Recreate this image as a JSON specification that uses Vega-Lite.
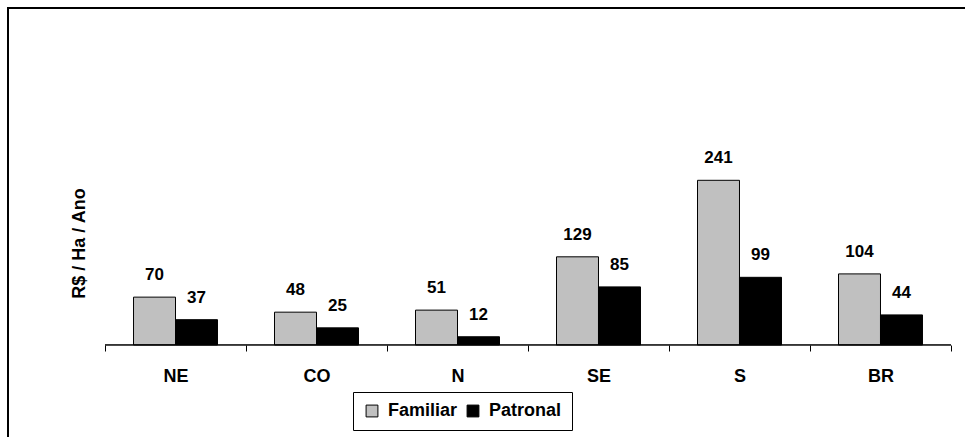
{
  "$schema": "https://vega.github.io/schema/vega-lite/v6.json",
  "autosize": "none",
  "padding": {"left": 8, "top": 8, "right": 0, "bottom": 0},
  "width": 1040,
  "height": 449,
  "background": "white",
  "config": {
    "font": "Liberation Sans",
    "view": {"stroke": "#000000", "strokeWidth": 2}
  },
  "data": {
    "values": [
      {"regiao": "NE", "tipo": "Familiar", "valor": 70},
      {"regiao": "NE", "tipo": "Patronal", "valor": 37},
      {"regiao": "CO", "tipo": "Familiar", "valor": 48},
      {"regiao": "CO", "tipo": "Patronal", "valor": 25},
      {"regiao": "N", "tipo": "Familiar", "valor": 51},
      {"regiao": "N", "tipo": "Patronal", "valor": 12},
      {"regiao": "SE", "tipo": "Familiar", "valor": 129},
      {"regiao": "SE", "tipo": "Patronal", "valor": 85},
      {"regiao": "S", "tipo": "Familiar", "valor": 241},
      {"regiao": "S", "tipo": "Patronal", "valor": 99},
      {"regiao": "BR", "tipo": "Familiar", "valor": 104},
      {"regiao": "BR", "tipo": "Patronal", "valor": 44}
    ]
  },
  "encoding": {
    "x": {
      "field": "regiao",
      "type": "nominal",
      "sort": ["NE", "CO", "N", "SE", "S", "BR"],
      "scale": {"paddingInner": 0, "paddingOuter": 0.688},
      "axis": {
        "title": null,
        "orient": "bottom",
        "offset": -112,
        "domain": false,
        "tickBand": "extent",
        "tickSize": 6,
        "tickColor": "#000000",
        "tickWidth": 1,
        "labelAngle": 0,
        "labelFont": "Liberation Sans",
        "labelFontSize": 18,
        "labelFontWeight": "bold",
        "labelColor": "#000000",
        "labelPadding": 16
      }
    }
  },
  "layer": [
    {
      "mark": {"type": "bar", "stroke": "#000000", "strokeWidth": 1},
      "encoding": {
        "xOffset": {
          "field": "tipo",
          "type": "nominal",
          "sort": ["Familiar", "Patronal"],
          "scale": {"paddingInner": 0, "paddingOuter": 0.679}
        },
        "y": {
          "field": "valor",
          "type": "quantitative",
          "stack": null,
          "scale": {"domain": [-164, 493.2], "nice": false, "zero": false},
          "axis": {
            "title": "R$ / Ha / Ano",
            "orient": "left",
            "offset": -97,
            "domain": false,
            "ticks": false,
            "labels": false,
            "grid": false,
            "titleFont": "Liberation Sans",
            "titleFontSize": 18,
            "titleFontWeight": "bold",
            "titleColor": "#000000",
            "titlePadding": 17,
            "titleY": 235
          }
        },
        "color": {
          "field": "tipo",
          "type": "nominal",
          "sort": ["Familiar", "Patronal"],
          "scale": {"domain": ["Familiar", "Patronal"], "range": ["#c0c0c0", "#000000"]},
          "legend": {
            "title": null,
            "orient": "none",
            "legendX": 345,
            "legendY": 384,
            "direction": "horizontal",
            "strokeColor": "#000000",
            "padding": 10,
            "symbolType": "square",
            "symbolSize": 140,
            "symbolStrokeColor": "#000000",
            "symbolStrokeWidth": 1,
            "symbolOpacity": 1,
            "labelFont": "Liberation Sans",
            "labelFontSize": 18,
            "labelFontWeight": "bold",
            "labelColor": "#000000",
            "labelOffset": 7,
            "columnPadding": 6
          }
        }
      }
    },
    {
      "mark": {"type": "text", "baseline": "alphabetic", "dy": -17, "font": "Liberation Sans", "fontSize": 17, "fontWeight": "bold", "color": "#000000"},
      "encoding": {
        "xOffset": {"field": "tipo", "type": "nominal", "sort": ["Familiar", "Patronal"]},
        "y": {"field": "valor", "type": "quantitative", "stack": null},
        "text": {"field": "valor", "type": "quantitative"}
      }
    },
    {
      "mark": {"type": "rule", "color": "#000000", "strokeWidth": 1},
      "encoding": {
        "x": {"field": "regiao", "type": "nominal", "sort": ["NE", "CO", "N", "SE", "S", "BR"], "bandPosition": 0},
        "x2": {"field": "regiao", "bandPosition": 1},
        "y": {"datum": 0}
      }
    }
  ]
}
